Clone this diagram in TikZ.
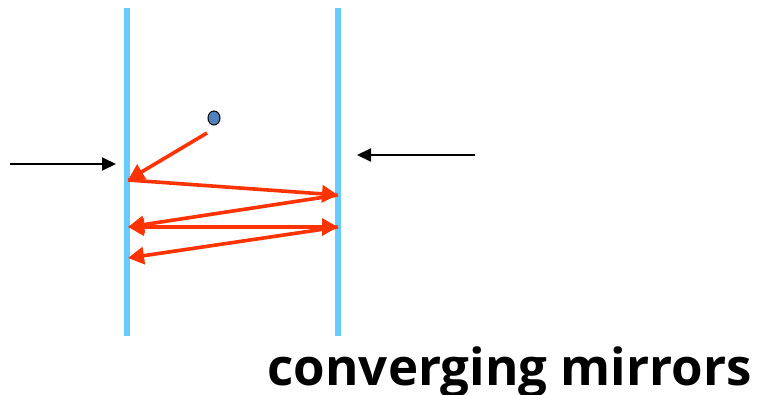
\documentclass[tikz,border=0pt]{standalone}
\usepackage{fontspec}
\setmainfont{Open Sans}
\usetikzlibrary{arrows.meta,shapes.geometric}
\definecolor{mirrorblue}{HTML}{66CCFF}
\definecolor{rayred}{HTML}{FF3300}
\definecolor{dotblue}{HTML}{4F81BD}
\begin{document}
\begin{tikzpicture}[x=1pt,y=-1pt,
  mirror/.style={mirrorblue,line width=6pt},
  redtip/.tip={Triangle[length=16pt,width=17pt]},
  ray/.style={rayred,line width=3.6pt,-redtip},
  tworay/.style={rayred,line width=3.6pt,redtip-redtip},
  push/.style={black,line width=2pt,-{Triangle[length=14pt,width=13pt]}}]
\useasboundingbox (0,0) rectangle (757,394);
% the two mirrors
\coordinate (Lt) at (127,8);  \coordinate (Lb) at (127,336);
\coordinate (Rt) at (338,8);  \coordinate (Rb) at (338,336);
\draw[mirror] (Lt) -- (Lb);
\draw[mirror] (Rt) -- (Rb);
% point source
\node[draw=black,fill=dotblue,line width=1pt,ellipse,inner sep=0pt,minimum width=12pt,minimum height=14pt] (src) at (214,118) {};
% reflection points
\coordinate (s0) at (207,133);
\coordinate (a1) at (128,180);
\coordinate (b1) at (338,195);
\coordinate (a2) at (128,227);
\coordinate (b2) at (338,227);
\coordinate (a3) at (128,258);
\draw[ray] (s0) -- (a1);
\draw[ray] (a1) -- (b1);
\draw[ray] (b1) -- (a2);
\draw[tworay] (a2) -- (b2);
\draw[ray] (b2) -- (a3);
% arrows showing the mirrors moving together
\coordinate (p1) at (10,164);  \coordinate (q1) at (116,164);
\coordinate (p2) at (475,155); \coordinate (q2) at (357,155);
\draw[push] (p1) -- (q1);
\draw[push] (p2) -- (q2);
% caption
\node[anchor=base east,inner sep=0pt,font=\bfseries\fontsize{51}{60}\selectfont] (cap) at (752,385) {converging mirrors};
\end{tikzpicture}
\end{document}
